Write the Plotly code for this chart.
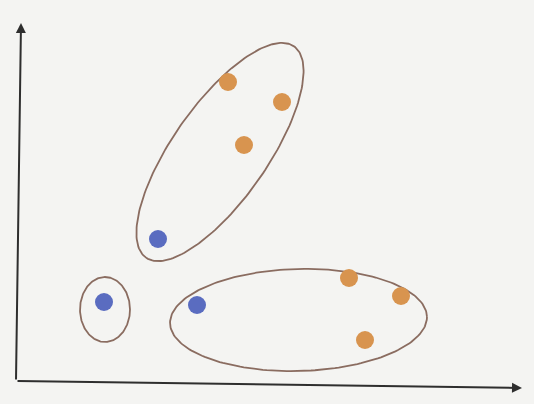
import numpy as np
import plotly.graph_objects as go

# Points (units along the hand-drawn axes)
orange_x = [4.24, 5.32, 4.56, 6.66, 7.70, 6.98]
orange_y = [5.98, 5.58, 4.72, 2.06, 1.70, 0.82]
blue_x = [2.84, 1.76, 3.62]
blue_y = [2.84, 1.58, 1.52]

# Cluster outlines: centre x, centre y, semi-axis along angle, semi-axis across, angle (deg)
ell_cx = [4.08, 1.78, 5.65]
ell_cy = [4.58, 1.43, 1.22]
ell_a = [2.58, 0.50, 2.57]
ell_b = [0.95, 0.65, 1.02]
ell_angle = [55, 0, 1.5]

# Axis arrow tips (slightly skewed, hand drawn)
yaxis_tip = (0.10, 7.16)
xaxis_tip = (10.12, -0.14)

ORANGE = '#d8944f'
BLUE = '#5a6cc0'
OUTLINE = '#8a6c60'
INK = '#2e2e2e'
PAPER = '#f4f4f2'

fig = go.Figure()

t = np.linspace(0, 2 * np.pi, 200)
for cx, cy, a, b, ang in zip(ell_cx, ell_cy, ell_a, ell_b, ell_angle):
  th = np.radians(ang)
  ex = cx + a * np.cos(t) * np.cos(th) - b * np.sin(t) * np.sin(th)
  ey = cy + a * np.cos(t) * np.sin(th) + b * np.sin(t) * np.cos(th)
  fig.add_trace(go.Scatter(
    x=ex, y=ey, mode='lines',
    line=dict(color=OUTLINE, width=1.8),
    hoverinfo='skip', showlegend=False
  ))

fig.add_trace(go.Scatter(
  x=orange_x, y=orange_y, mode='markers',
  marker=dict(color=ORANGE, size=18, line=dict(width=0)),
  showlegend=False
))
fig.add_trace(go.Scatter(
  x=blue_x, y=blue_y, mode='markers',
  marker=dict(color=BLUE, size=18, line=dict(width=0)),
  showlegend=False
))

# Axes as arrows from the origin
for tip in (yaxis_tip, xaxis_tip):
  fig.add_annotation(
    x=tip[0], y=tip[1], ax=0, ay=0,
    xref='x', yref='y', axref='x', ayref='y',
    showarrow=True, arrowhead=2, arrowsize=1, arrowwidth=2,
    arrowcolor=INK, text=''
  )

fig.update_layout(
  width=534, height=404,
  margin=dict(l=0, r=0, t=0, b=0),
  paper_bgcolor=PAPER, plot_bgcolor=PAPER,
  xaxis=dict(range=[-0.32, 10.36], visible=False),
  yaxis=dict(range=[-0.46, 7.62], visible=False),
)

# drop the page's default body margin so the figure sits at the window corner
fig.write_html(
  'out.html',
  config={'displayModeBar': False},
  post_script="document.body.style.margin='0';document.body.style.overflow='hidden';"
)
